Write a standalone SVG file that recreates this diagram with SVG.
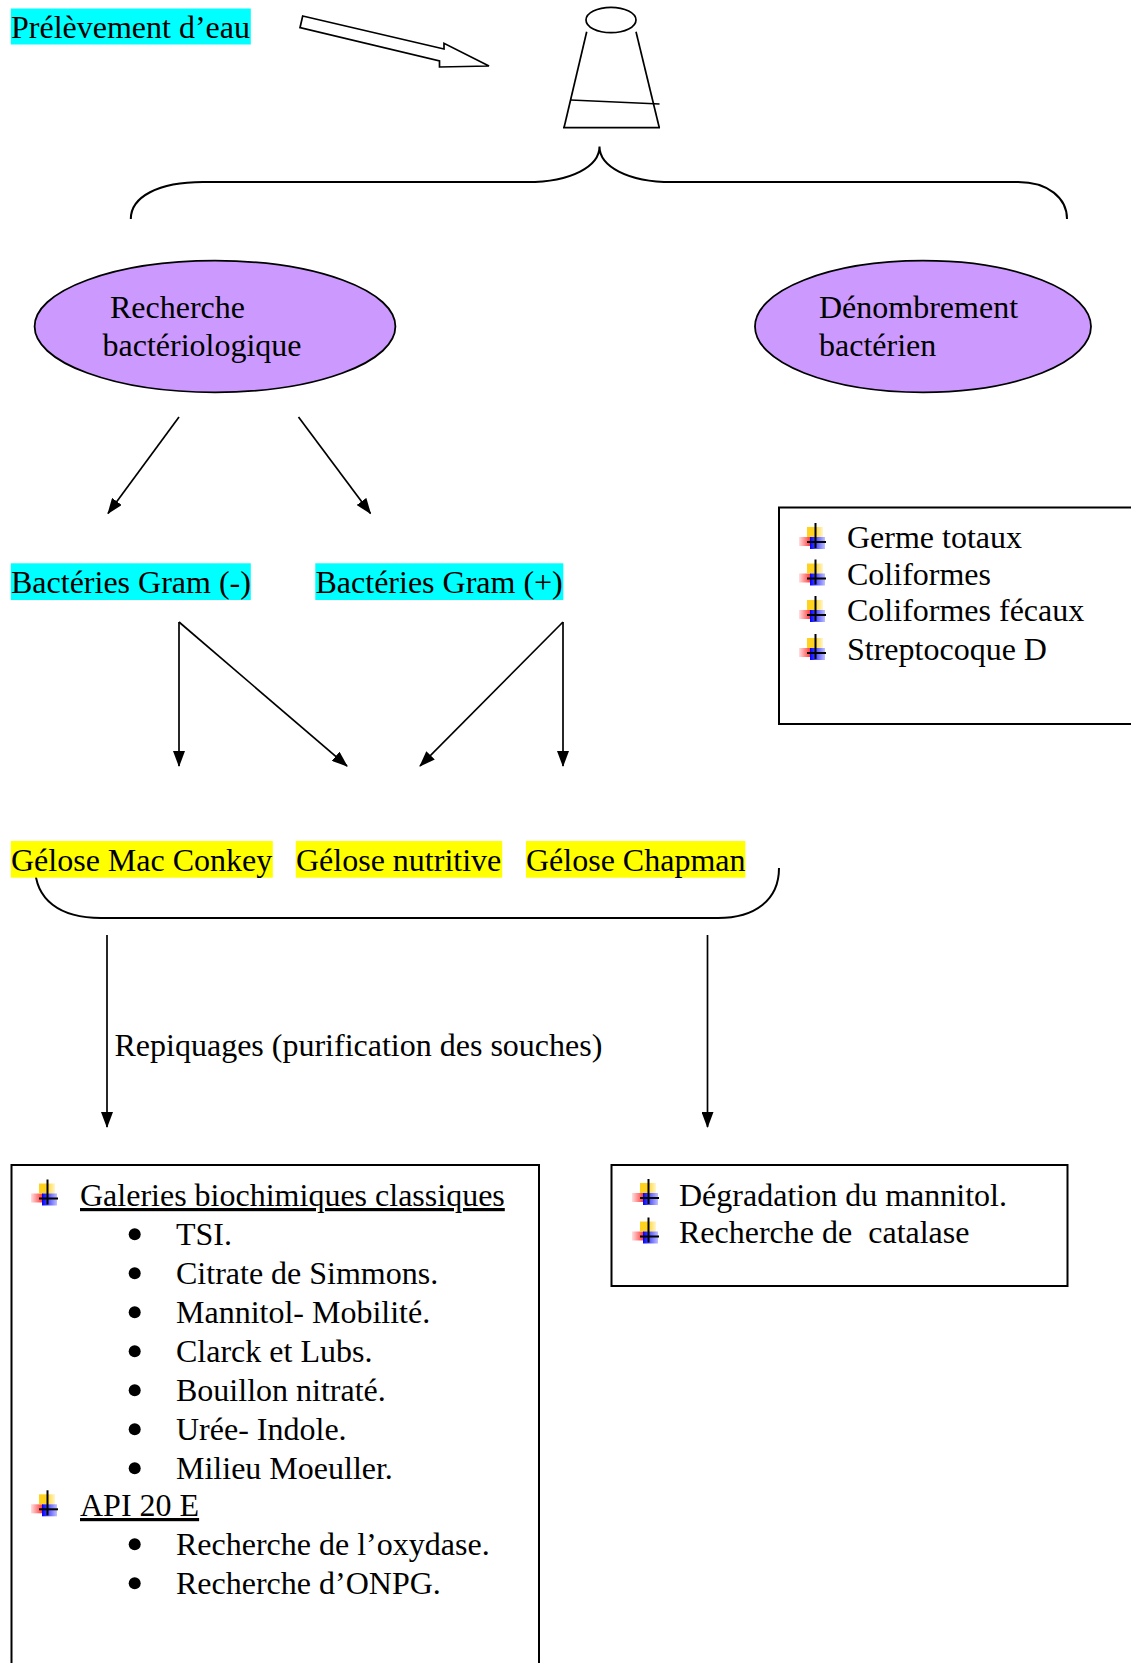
<svg xmlns="http://www.w3.org/2000/svg" xmlns:xlink="http://www.w3.org/1999/xlink" width="1131" height="1663" viewBox="0 0 1131 1663">
<style>
.t{font-family:"Liberation Serif","Times New Roman",serif;font-size:32px;fill:#000}
.u{text-decoration:underline}
.ln{stroke:#000;stroke-width:1.7;fill:none}
.br{stroke:#000;stroke-width:2;fill:none}
.arr{marker-end:url(#ah)}
.box{fill:#fff;stroke:#000;stroke-width:2}
.ell{fill:#CC99FF;stroke:#000;stroke-width:1.8}
.cy{fill:#00FFFF}
.ye{fill:#FFFF00}
.dot{fill:#000}
</style>
<defs>
<marker id="ah" viewBox="0 0 16 12" markerWidth="16" markerHeight="12" refX="15" refY="6" orient="auto" markerUnits="userSpaceOnUse">
<path d="M0,0 L16,6 L0,12 z" fill="#000"/>
</marker>
<linearGradient id="gr" x1="0" y1="0" x2="1" y2="0"><stop offset="0" stop-color="#FF3030" stop-opacity="0.15"/><stop offset="1" stop-color="#FF3030"/></linearGradient>
<linearGradient id="gy" x1="0" y1="0" x2="1" y2="0"><stop offset="0" stop-color="#FFD21F"/><stop offset="0.45" stop-color="#FFD21F"/><stop offset="1" stop-color="#FFF6CC"/></linearGradient>
<linearGradient id="gb" x1="0" y1="0" x2="1" y2="0"><stop offset="0" stop-color="#0000FF"/><stop offset="1" stop-color="#0000FF" stop-opacity="0.25"/></linearGradient>
<g id="tick">
<rect x="0" y="-5" width="12" height="9" fill="url(#gr)"/>
<rect x="8" y="-15" width="16" height="10" fill="url(#gy)"/>
<rect x="11" y="-5" width="15" height="12" fill="url(#gb)"/>
<rect x="15.5" y="-19" width="2" height="25" fill="#000"/>
<rect x="8" y="-1" width="19" height="2" fill="#000"/>
</g>
</defs>
<rect width="1131" height="1663" fill="#fff"/>

<g id="connectors">
<path class="ln" d="M302.7,16 L444,49 L444,43.3 L489,66 L439.5,67 L439.5,61 L300,27.7 Z" fill="#fff"/>
<path class="br" d="M130.8,219 C130.8,197 158,182 203,182 L527,182 C572,182 599.5,166 599.5,146.5 C599.5,166 627,182 672,182 L1018,182 C1048,182 1067,198 1067,219"/>
<line class="ln arr" x1="179" y1="417" x2="108" y2="513.5"/>
<line class="ln arr" x1="298.5" y1="417" x2="370.5" y2="513.5"/>
<line class="ln arr" x1="179" y1="622" x2="179" y2="766"/>
<line class="ln arr" x1="179" y1="622" x2="347" y2="766"/>
<line class="ln arr" x1="563" y1="622" x2="420" y2="766"/>
<line class="ln arr" x1="563" y1="622" x2="563" y2="766"/>
<path class="br" d="M35,866 C35,900 60,918 101,918 L718,918 C755,918 779,900 779,868"/>
<line class="ln arr" x1="107" y1="935" x2="107" y2="1127"/>
<line class="ln arr" x1="707.5" y1="935" x2="707.5" y2="1127"/>
<text class="t" x="114.5" y="1055.5">Repiquages (purification des souches)</text>
</g>

<g id="prelevement">
<rect class="cy" x="10.8" y="8.5" width="240" height="36"/>
<text class="t" x="11" y="37.5">Prélèvement d’eau</text>
</g>

<g id="flacon">
<ellipse cx="611" cy="20" rx="25" ry="12.7" class="ln" stroke-width="2"/>
<line class="ln" stroke-width="2" x1="586.7" y1="31.7" x2="564" y2="127.7"/>
<line class="ln" stroke-width="2" x1="636" y1="31.7" x2="659.3" y2="127.7"/>
<line class="ln" stroke-width="2" x1="563" y1="127.7" x2="660" y2="127.7"/>
<line class="ln" stroke-width="2" x1="570.7" y1="100" x2="659.5" y2="104"/>
</g>

<g id="recherche">
<ellipse class="ell" cx="215" cy="326.5" rx="180.4" ry="65.8"/>
<text class="t" x="110" y="318">Recherche</text>
<text class="t" x="102.5" y="355.5">bactériologique</text>
</g>

<g id="denombrement">
<ellipse class="ell" cx="923" cy="326.5" rx="168" ry="65.8"/>
<text class="t" x="819" y="318">Dénombrement</text>
<text class="t" x="819" y="355.5">bactérien</text>
</g>

<g id="gram-neg">
<rect class="cy" x="10.8" y="563.3" width="240" height="36.7"/>
<text class="t" x="11" y="593">Bactéries Gram (-)</text>
</g>

<g id="gram-pos">
<rect class="cy" x="315.3" y="563.3" width="248" height="36.7"/>
<text class="t" x="315.5" y="593">Bactéries Gram (+)</text>
</g>

<g id="denombrement-liste">
<rect class="box" x="779" y="507.5" width="400" height="216.5"/>
<use xlink:href="#tick" href="#tick" x="799" y="542"/>
<use xlink:href="#tick" href="#tick" x="799" y="578.5"/>
<use xlink:href="#tick" href="#tick" x="799" y="615"/>
<use xlink:href="#tick" href="#tick" x="799" y="653"/>
<text class="t" x="847" y="548">Germe totaux</text>
<text class="t" x="847" y="584.5">Coliformes</text>
<text class="t" x="847" y="621">Coliformes fécaux</text>
<text class="t" x="847" y="659.5">Streptocoque D</text>
</g>

<g id="gelose-mac-conkey">
<rect class="ye" x="10.8" y="841" width="262" height="36.7"/>
<text class="t" x="11" y="870.5">Gélose Mac Conkey</text>
</g>

<g id="gelose-nutritive">
<rect class="ye" x="295.8" y="841" width="206.4" height="36.7"/>
<text class="t" x="296" y="870.5">Gélose nutritive</text>
</g>

<g id="gelose-chapman">
<rect class="ye" x="526" y="841" width="219.3" height="36.7"/>
<text class="t" x="526" y="870.5">Gélose Chapman</text>
</g>

<g id="galeries">
<rect class="box" x="11.5" y="1165" width="527.5" height="520"/>
<use xlink:href="#tick" href="#tick" x="31" y="1198.5"/>
<text class="t u" x="80" y="1206">Galeries biochimiques classiques</text>
<circle class="dot" cx="134.7" cy="1234.3" r="6"/>
<text class="t" x="176" y="1245">TSI.</text>
<circle class="dot" cx="134.7" cy="1273.3" r="6"/>
<text class="t" x="176" y="1284">Citrate de Simmons.</text>
<circle class="dot" cx="134.7" cy="1312.3" r="6"/>
<text class="t" x="176" y="1323">Mannitol- Mobilité.</text>
<circle class="dot" cx="134.7" cy="1351.3" r="6"/>
<text class="t" x="176" y="1362">Clarck et Lubs.</text>
<circle class="dot" cx="134.7" cy="1390.3" r="6"/>
<text class="t" x="176" y="1401">Bouillon nitraté.</text>
<circle class="dot" cx="134.7" cy="1429.3" r="6"/>
<text class="t" x="176" y="1440">Urée- Indole.</text>
<circle class="dot" cx="134.7" cy="1468.3" r="6"/>
<text class="t" x="176" y="1479">Milieu Moeuller.</text>
<use xlink:href="#tick" href="#tick" x="31" y="1509.3"/>
<text class="t u" x="80" y="1516">API 20 E</text>
<circle class="dot" cx="134.7" cy="1544.3" r="6"/>
<text class="t" x="176" y="1555">Recherche de l’oxydase.</text>
<circle class="dot" cx="134.7" cy="1583.3" r="6"/>
<text class="t" x="176" y="1594">Recherche d’ONPG.</text>
</g>

<g id="tests-chapman">
<rect class="box" x="611.5" y="1165" width="456" height="121"/>
<use xlink:href="#tick" href="#tick" x="632" y="1198"/>
<use xlink:href="#tick" href="#tick" x="632" y="1236.5"/>
<text class="t" x="679" y="1205.5">Dégradation du mannitol.</text>
<text class="t" x="679" y="1242.5" xml:space="preserve">Recherche de  catalase</text>
</g>
</svg>
